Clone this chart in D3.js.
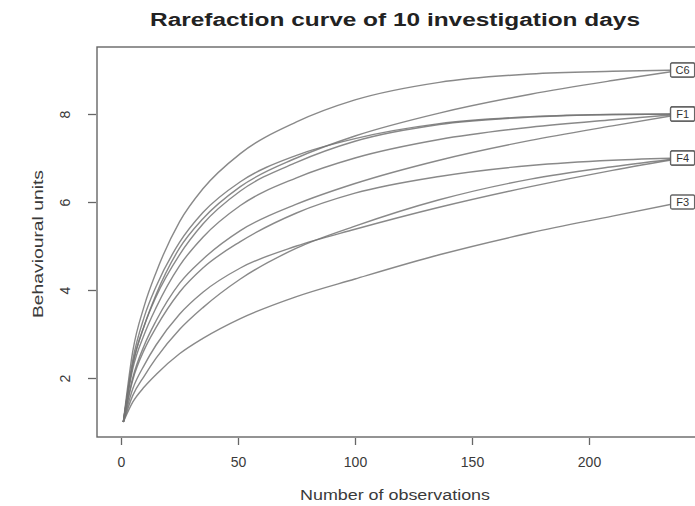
<!DOCTYPE html>
<html>
<head>
<meta charset="utf-8">
<script src="https://cdn.jsdelivr.net/npm/d3@7"></script>
<style>
  html, body { margin: 0; padding: 0; background: #fff; }
  svg { display: block; }
  text { font-family: "Liberation Sans", Arial, sans-serif; }
</style>
</head>
<body>
<svg id="chart" width="695" height="506"></svg>
<script>
// ---- data ----
const observations = [1, 5, 10, 15, 25, 35, 51, 75, 100, 136, 175, 210, 240];
const seriesLabels = ["C6", "C6", "F1", "F1", "F1", "F1", "F4", "F4", "F4", "F3"];
const curveC6a = [1, 2.6, 3.65, 4.4, 5.55, 6.3, 7.1, 7.82, 8.32, 8.72, 8.91, 8.97, 9];
const curveC6b = [1, 2.3, 3.2, 3.9, 4.95, 5.62, 6.35, 7.0, 7.5, 8.02, 8.45, 8.76, 9];
const curveF1a = [1, 2.4, 3.4, 4.08, 5.08, 5.76, 6.46, 7.06, 7.44, 7.78, 7.94, 7.99, 8];
const curveF1b = [1, 2.3, 3.2, 3.85, 4.8, 5.5, 6.25, 6.9, 7.38, 7.76, 7.93, 7.99, 8];
const curveF1c = [1, 2.2, 3.0, 3.6, 4.55, 5.2, 5.92, 6.55, 7.0, 7.42, 7.7, 7.87, 8];
const curveF1d = [1, 2.0, 2.75, 3.3, 4.15, 4.7, 5.35, 5.95, 6.42, 6.95, 7.4, 7.73, 8];
const curveF4a = [1, 1.95, 2.65, 3.15, 3.95, 4.5, 5.1, 5.75, 6.2, 6.58, 6.83, 6.95, 7];
const curveF4b = [1, 1.6, 2.05, 2.45, 3.1, 3.6, 4.25, 4.95, 5.45, 6.05, 6.52, 6.8, 7];
const curveF4c = [1, 1.75, 2.3, 2.75, 3.45, 3.95, 4.5, 5.0, 5.38, 5.88, 6.35, 6.72, 7];
const curveF3  = [1, 1.45, 1.8, 2.08, 2.55, 2.9, 3.35, 3.85, 4.25, 4.8, 5.3, 5.68, 6];
const seriesValues = [curveC6a, curveC6b, curveF1a, curveF1b, curveF1c, curveF1d, curveF4a, curveF4b, curveF4c, curveF3];
const xTicks = [0, 50, 100, 150, 200];
const yTicks = [2, 4, 6, 8];
const titleText = "Rarefaction curve of 10 investigation days";
const xTitle = "Number of observations";
const yTitle = "Behavioural units";

// ---- layout ----
const svg = d3.select("#chart");
const box = { left: 97, top: 47, right: 720, bottom: 437 };
const x = d3.scaleLinear().domain([0, 200]).range([121, 589]);
const y = d3.scaleLinear().domain([2, 8]).range([378, 114]);
const textColor = "#3a3a3a";
const lineColor = "#747474";

// title
svg.append("text")
  .attr("x", 395).attr("y", 26)
  .attr("text-anchor", "middle")
  .attr("font-weight", "bold")
  .attr("font-size", 18)
  .attr("fill", "#222")
  .attr("textLength", 490)
  .attr("lengthAdjust", "spacingAndGlyphs")
  .text(titleText);

// curves
const line = d3.line()
  .x(d => x(d[0]))
  .y(d => y(d[1]))
  .curve(d3.curveMonotoneX);

svg.append("g").selectAll("path")
  .data(seriesValues)
  .join("path")
  .attr("d", vals => line(observations.map((o, i) => [o, vals[i]])))
  .attr("fill", "none")
  .attr("stroke", lineColor)
  .attr("stroke-width", 1.4)
  .attr("stroke-opacity", 0.85);

// plot box
svg.append("rect")
  .attr("x", box.left).attr("y", box.top)
  .attr("width", box.right - box.left).attr("height", box.bottom - box.top)
  .attr("fill", "none").attr("stroke", "#666").attr("stroke-width", 1.4);

// x axis (R-style: ticks below box)
const xAxis = d3.axisBottom(x).tickValues(xTicks).tickFormat(d3.format("d"))
  .tickSize(7).tickPadding(12).tickSizeOuter(0);
const gx = svg.append("g").attr("transform", `translate(0,${box.bottom + 1})`).call(xAxis);
gx.select(".domain").remove();
gx.selectAll(".tick line").attr("stroke", "#666").attr("stroke-width", 1.3);
gx.selectAll(".tick text").attr("font-size", 14).attr("fill", textColor)
  .attr("font-family", "'Liberation Sans', Arial, sans-serif");

// y axis
const yAxis = d3.axisLeft(y).tickValues(yTicks).tickFormat(d3.format("d"))
  .tickSize(8).tickPadding(0).tickSizeOuter(0);
const gy = svg.append("g").attr("transform", `translate(${box.left - 1},0)`).call(yAxis);
gy.select(".domain").remove();
gy.selectAll(".tick line").attr("stroke", "#666").attr("stroke-width", 1.3);
gy.selectAll(".tick text")
  .attr("font-size", 14).attr("fill", textColor)
  .attr("font-family", "'Liberation Sans', Arial, sans-serif")
  .attr("x", null)
  .attr("text-anchor", "middle")
  .attr("transform", "translate(-31,0) rotate(-90)")
  .attr("dy", "0.35em");

// axis titles
svg.append("text")
  .attr("x", 395).attr("y", 500)
  .attr("text-anchor", "middle")
  .attr("font-size", 14).attr("fill", textColor)
  .attr("textLength", 190).attr("lengthAdjust", "spacingAndGlyphs")
  .text(xTitle);
svg.append("text")
  .attr("transform", `translate(43,${(box.top + box.bottom) / 2 + 2}) rotate(-90)`)
  .attr("text-anchor", "middle")
  .attr("font-size", 15).attr("fill", textColor)
  .attr("textLength", 148).attr("lengthAdjust", "spacingAndGlyphs")
  .text(yTitle);

// end labels (boxed)
const lastX = observations[observations.length - 1];
const labels = svg.append("g").selectAll("g")
  .data(seriesValues.map((v, i) => ({ label: seriesLabels[i], value: v[v.length - 1] })))
  .join("g")
  .attr("transform", d => `translate(${x(lastX)},${y(d.value)})`);
labels.append("rect")
  .attr("x", -12).attr("y", -7).attr("width", 24).attr("height", 14)
  .attr("rx", 1.5)
  .attr("fill", "#fff").attr("stroke", "#666").attr("stroke-width", 1.3);
labels.append("text")
  .attr("text-anchor", "middle").attr("dy", "0.36em")
  .attr("font-size", 11).attr("fill", "#333")
  .text(d => d.label);
</script>
</body>
</html>
